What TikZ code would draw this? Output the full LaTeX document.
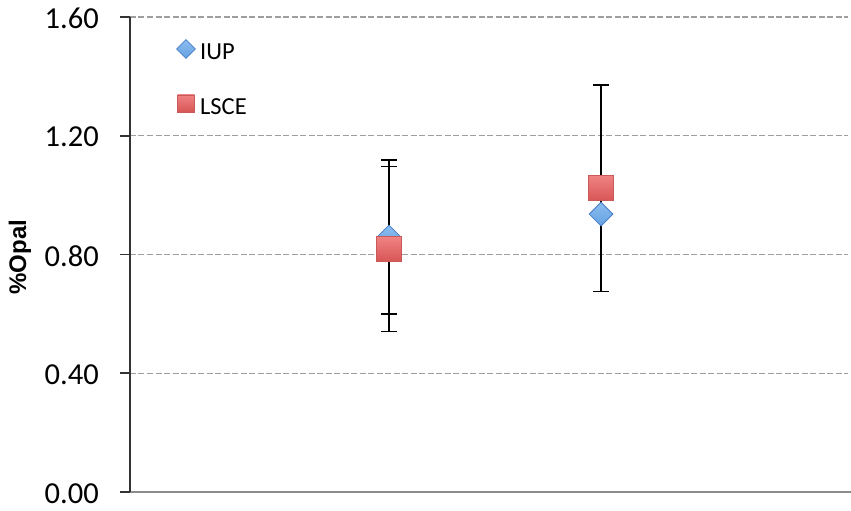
\documentclass[tikz,border=0pt]{standalone}
\usepackage{fontspec}
\setmainfont{Carlito}
\newfontfamily\labelfont{Liberation Sans}
\usetikzlibrary{shapes.geometric}
\definecolor{iupfill}{RGB}{100,160,225}
\definecolor{iuptop}{RGB}{140,190,240}
\definecolor{iupline}{RGB}{70,125,200}
\definecolor{lscefill}{RGB}{215,85,85}
\definecolor{lscetop}{RGB}{240,130,130}
\definecolor{lsceline}{RGB}{200,90,90}
\begin{document}
\begin{tikzpicture}[x=1pt,y=1pt]
    \def \yu {296.9}
    \def \capw {8}
    \tikzstyle{grid line}=[draw=black!38, line width=1.1pt, dash pattern=on 6pt off 2.5pt]
    \tikzstyle{tick label}=[font=\fontsize{30.5}{32}\selectfont, anchor=east, inner sep=0pt];
    \tikzstyle{legend text}=[font=\fontsize{24.5}{26}\selectfont, anchor=west, inner sep=0pt];
    \tikzstyle{errbar}=[draw=black, line width=1.6pt];
    \tikzstyle{iup}=[diamond, draw=iupline, line width=0.8pt, top color=iuptop, bottom color=iupfill, inner sep=0pt, minimum size=24pt];
    \tikzstyle{lsce}=[rectangle, draw=lsceline, line width=0.8pt, top color=lscetop, bottom color=lscefill, inner sep=0pt, minimum size=25pt];
    \useasboundingbox (-130,-19) rectangle (721,492);
    % grid and axes
    \foreach \v in {0.4,0.8,1.2,1.6}{
    \draw[grid line] (0,{\v*\yu}) -- (718,{\v*\yu});}
    \draw[draw=black!45, line width=1.6pt] (0,0) -- (721,0);
    \draw[draw=black!80, line width=1.6pt] (0,0) -- (0,{1.6*\yu});
    \foreach \v/\t in {0/0.00,0.4/0.40,0.8/0.80,1.2/1.20,1.6/1.60}{
    \draw[draw=black!80, line width=1.6pt] (-10,{\v*\yu}) -- (0,{\v*\yu});
    \node[tick label] (tick\t) at (-31,{\v*\yu-1.5}) {\t};}
    \node[font=\labelfont\bfseries\fontsize{24}{26}\selectfont, rotate=90, inner sep=0pt] (ytitle) at (-110,235) {\%Opal};
    % error bars
    \coordinate (e1) at (259,{(0.859+0.259)*\yu});
    \coordinate (e2) at (259,{(0.859-0.259)*\yu});
    \coordinate (e3) at (259,{(0.818+0.278)*\yu});
    \coordinate (e4) at (259,{(0.818-0.278)*\yu});
    \coordinate (e5) at (471,{(1.023+0.348)*\yu});
    \coordinate (e6) at (471,{(1.023-0.348)*\yu});
    \draw[errbar] (e1) -- (e2);
    \draw[errbar] (e3) -- (e4);
    \draw[errbar] (e5) -- (e6);
    \foreach \e in {e1,e2,e3,e4,e5,e6}{
    \draw[errbar] ([xshift=-\capw pt]\e) -- ([xshift=\capw pt]\e);}
    % points
    \node[iup] (iup1) at (259,{0.859*\yu}) {};
    \node[iup] (iup2) at (471,{0.936*\yu}) {};
    \node[lsce] (lsce1) at (259,{0.818*\yu}) {};
    \node[lsce] (lsce2) at (471,{1.023*\yu}) {};
    % legend
    \node[iup, minimum size=19pt] (legiup) at (56,443) {};
    \node[legend text] (legiuptext) at (70,440) {IUP};
    \node[lsce, minimum size=17pt] (leglsce) at (56,388.5) {};
    \node[legend text] (leglscetext) at (70,385.5) {LSCE};
\end{tikzpicture}
\end{document}
